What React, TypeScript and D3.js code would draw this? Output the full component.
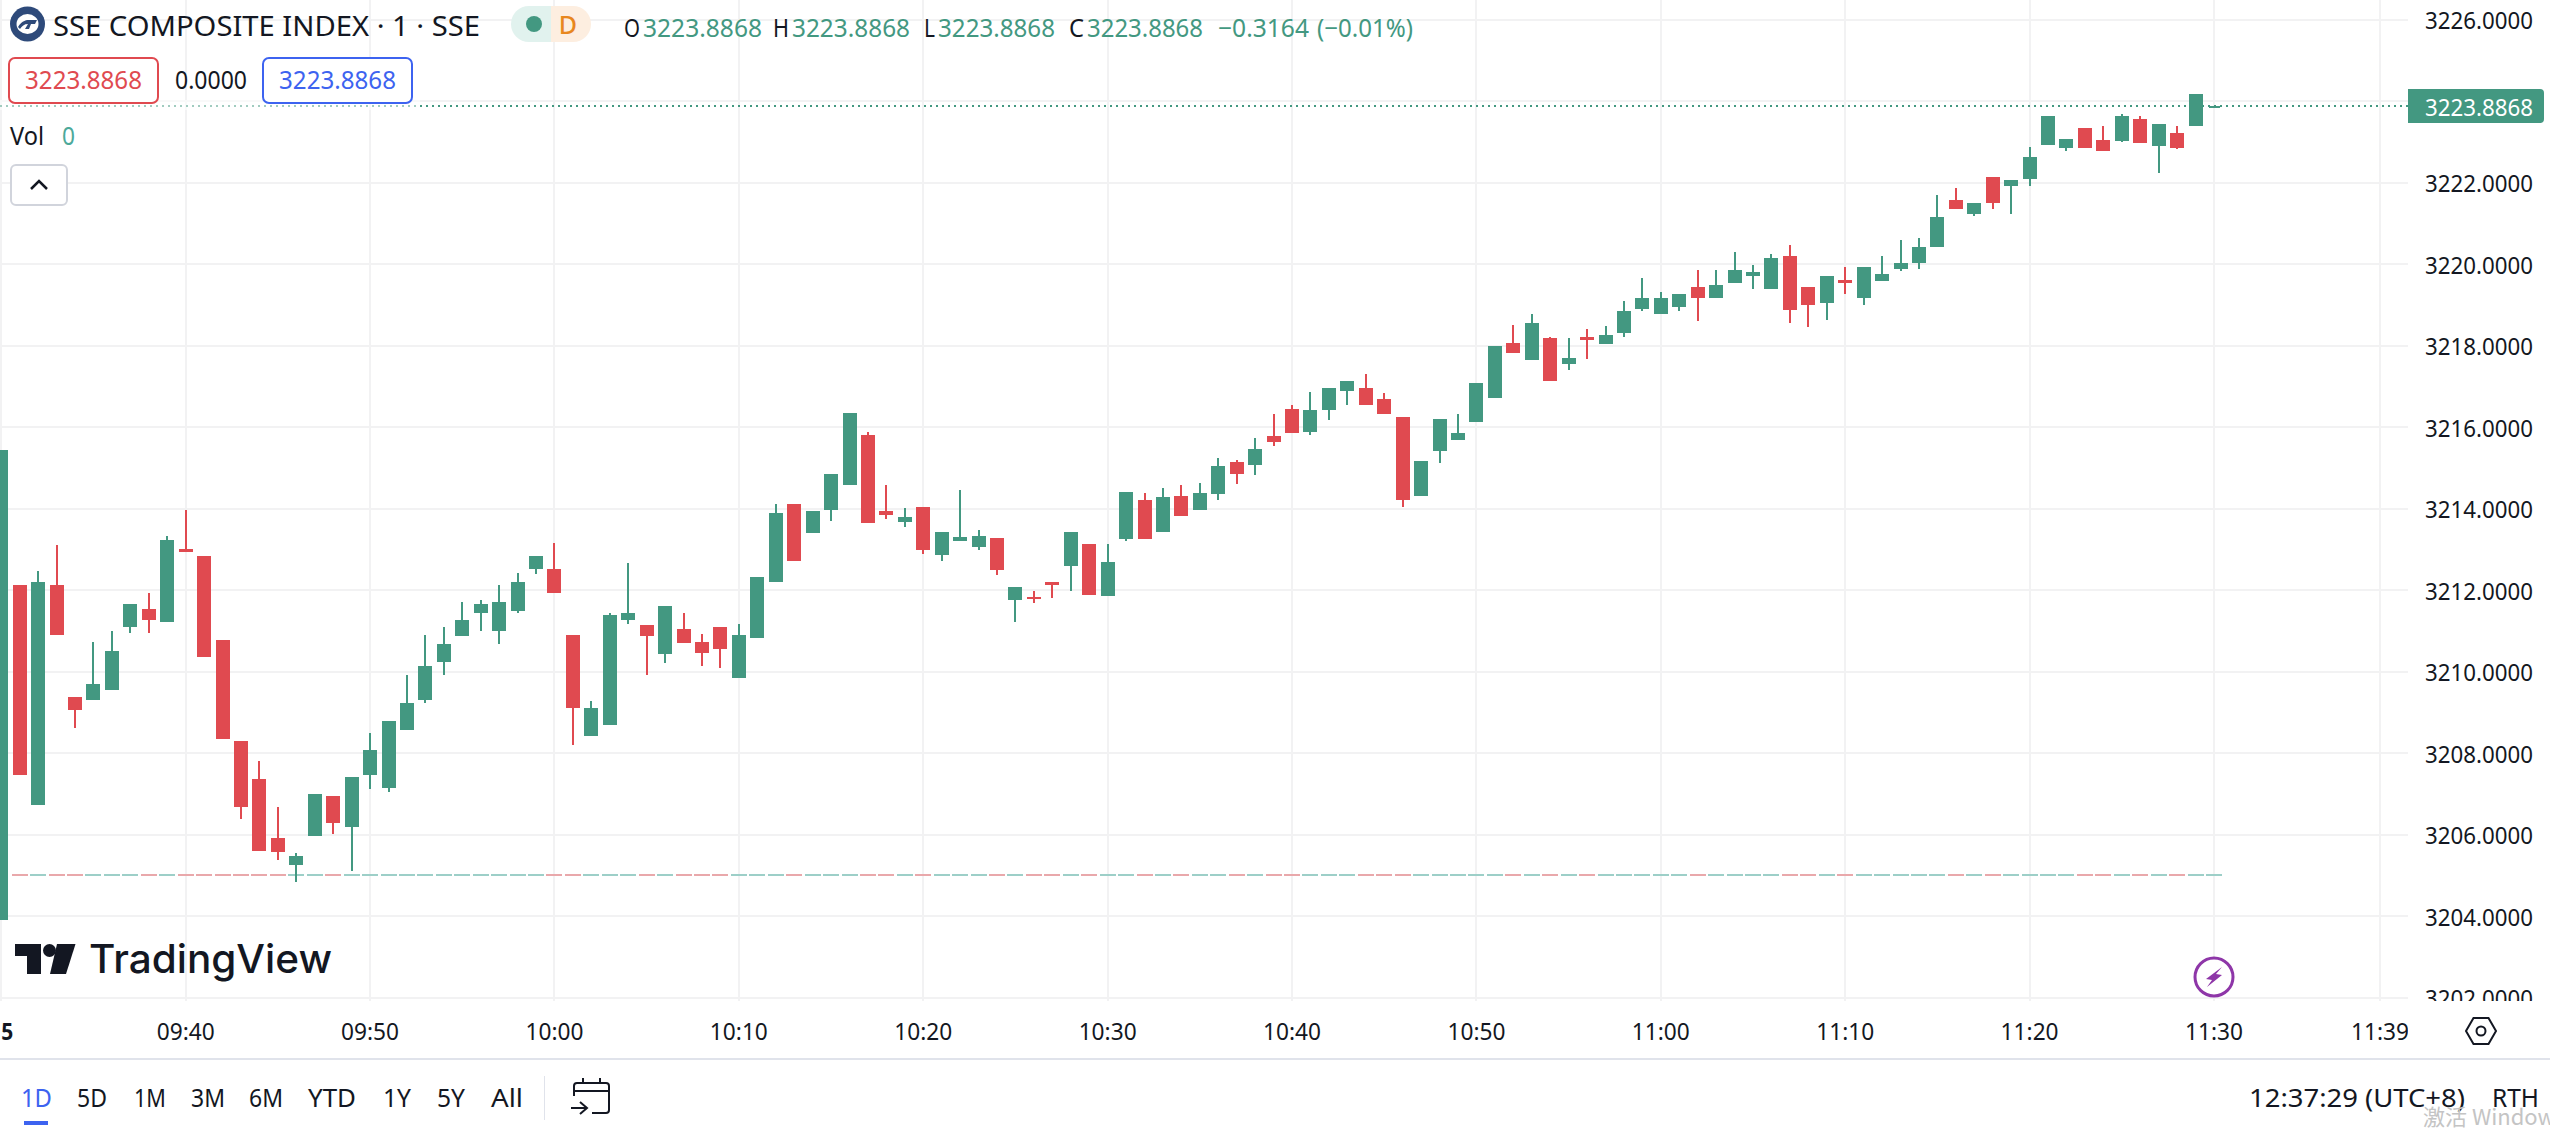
import React from "react";
import * as d3 from "d3";

const openPrices = [
  3203.91, 3212.12, 3206.72, 3212.12, 3209.39, 3209.30, 3209.56, 3211.09, 3211.53, 3211.21,
  3213.00, 3212.83, 3210.77, 3208.29, 3207.36, 3205.91, 3205.25, 3205.96, 3206.96, 3206.20,
  3207.46, 3207.14, 3208.56, 3209.30, 3210.25, 3210.87, 3211.43, 3210.99, 3211.48, 3212.53,
  3212.53, 3210.91, 3208.41, 3208.68, 3211.28, 3211.14, 3210.43, 3211.04, 3210.72, 3211.09,
  3209.84, 3210.82, 3212.19, 3214.11, 3213.40, 3213.96, 3214.58, 3215.80, 3213.94, 3213.67,
  3214.04, 3212.86, 3213.20, 3213.05, 3213.28, 3211.75, 3211.83, 3212.19, 3212.59, 3213.13,
  3211.85, 3213.25, 3214.21, 3213.42, 3214.30, 3213.98, 3214.37, 3215.15, 3215.08, 3215.79,
  3216.45, 3215.88, 3216.42, 3216.89, 3216.96, 3216.69, 3216.25, 3214.32, 3215.42, 3215.69,
  3216.13, 3216.72, 3218.06, 3217.64, 3218.18, 3217.55, 3218.21, 3218.04, 3218.30, 3218.89,
  3218.79, 3218.94, 3219.43, 3219.16, 3219.53, 3219.70, 3219.38, 3220.19, 3219.45, 3219.06,
  3219.62, 3219.16, 3219.60, 3219.89, 3220.04, 3220.43, 3221.58, 3221.24, 3222.15, 3221.93,
  3222.10, 3222.93, 3222.86, 3223.35, 3223.05, 3223.03, 3223.57, 3222.91, 3223.22, 3223.40,
  3223.83,
];
const highPrices = [
  3215.43, 3212.12, 3212.48, 3213.10, 3209.39, 3210.74, 3210.99, 3211.65, 3211.92, 3213.32,
  3213.98, 3212.83, 3210.77, 3208.29, 3207.80, 3206.67, 3205.54, 3207.01, 3206.96, 3207.41,
  3208.49, 3208.78, 3209.91, 3210.89, 3211.09, 3211.70, 3211.77, 3212.12, 3212.41, 3212.85,
  3213.15, 3210.91, 3209.27, 3211.45, 3212.66, 3211.14, 3211.61, 3211.43, 3210.92, 3211.09,
  3211.16, 3212.32, 3214.11, 3214.11, 3213.94, 3214.85, 3216.34, 3215.88, 3214.58, 3214.01,
  3214.04, 3213.42, 3214.45, 3213.47, 3213.28, 3212.07, 3211.97, 3212.19, 3213.42, 3213.13,
  3213.13, 3214.40, 3214.38, 3214.50, 3214.59, 3214.64, 3215.25, 3215.20, 3215.74, 3216.32,
  3216.54, 3216.86, 3216.96, 3217.13, 3217.30, 3216.84, 3216.25, 3215.18, 3216.20, 3216.32,
  3217.08, 3217.99, 3218.50, 3218.79, 3218.21, 3218.18, 3218.40, 3218.48, 3219.09, 3219.65,
  3219.33, 3219.28, 3219.85, 3219.85, 3220.31, 3219.99, 3220.26, 3220.46, 3219.45, 3219.72,
  3219.92, 3219.92, 3220.21, 3220.60, 3220.65, 3221.71, 3221.88, 3221.51, 3222.15, 3222.07,
  3222.88, 3223.64, 3223.08, 3223.35, 3223.40, 3223.69, 3223.64, 3223.44, 3223.40, 3224.18,
  3223.8868,
];
const lowPrices = [
  3203.91, 3207.46, 3206.72, 3210.91, 3208.63, 3209.30, 3209.56, 3210.94, 3210.94, 3211.21,
  3212.93, 3210.37, 3208.36, 3206.38, 3205.59, 3205.37, 3204.83, 3205.96, 3206.01, 3205.10,
  3207.11, 3207.06, 3208.56, 3209.22, 3209.91, 3210.87, 3211.01, 3210.67, 3211.45, 3212.39,
  3211.94, 3208.19, 3208.41, 3208.68, 3211.18, 3209.91, 3210.21, 3210.70, 3210.13, 3210.08,
  3209.84, 3210.82, 3212.19, 3212.71, 3213.40, 3213.69, 3214.58, 3213.64, 3213.74, 3213.55,
  3212.88, 3212.71, 3213.20, 3212.98, 3212.37, 3211.21, 3211.68, 3211.80, 3211.97, 3211.88,
  3211.85, 3213.20, 3213.25, 3213.42, 3213.83, 3213.98, 3214.22, 3214.61, 3214.83, 3215.54,
  3215.86, 3215.81, 3216.18, 3216.54, 3216.54, 3216.32, 3214.03, 3214.30, 3215.13, 3215.69,
  3216.13, 3216.72, 3217.82, 3217.64, 3217.13, 3217.40, 3217.67, 3218.04, 3218.21, 3218.84,
  3218.77, 3218.84, 3218.60, 3219.16, 3219.53, 3219.38, 3219.38, 3218.55, 3218.45, 3218.62,
  3219.26, 3218.99, 3219.60, 3219.84, 3219.89, 3220.43, 3221.36, 3221.19, 3221.36, 3221.24,
  3221.93, 3222.93, 3222.78, 3222.86, 3222.78, 3223.00, 3222.98, 3222.24, 3222.83, 3223.40,
  3223.83,
];
const closePrices = [
  3215.43, 3207.46, 3212.21, 3210.91, 3209.07, 3209.71, 3210.52, 3211.65, 3211.26, 3213.22,
  3212.93, 3210.37, 3208.36, 3206.67, 3205.59, 3205.57, 3205.47, 3207.01, 3206.28, 3207.41,
  3208.09, 3208.78, 3209.22, 3210.15, 3210.69, 3211.26, 3211.65, 3211.72, 3212.21, 3212.85,
  3211.94, 3209.12, 3209.10, 3211.38, 3211.45, 3210.87, 3211.61, 3210.70, 3210.45, 3210.55,
  3210.89, 3212.32, 3213.89, 3212.71, 3213.94, 3214.85, 3216.34, 3213.64, 3213.84, 3213.79,
  3212.98, 3213.42, 3213.30, 3213.32, 3212.49, 3212.07, 3211.78, 3212.12, 3213.42, 3211.88,
  3212.69, 3214.40, 3213.25, 3214.28, 3213.83, 3214.39, 3215.05, 3214.86, 3215.47, 3215.64,
  3215.86, 3216.42, 3216.96, 3217.13, 3216.54, 3216.32, 3214.22, 3215.18, 3216.20, 3215.86,
  3217.08, 3217.99, 3217.82, 3218.55, 3217.13, 3217.69, 3218.13, 3218.26, 3218.84, 3219.16,
  3219.16, 3219.28, 3219.16, 3219.48, 3219.85, 3219.82, 3220.16, 3218.87, 3219.01, 3219.72,
  3219.55, 3219.92, 3219.75, 3220.02, 3220.43, 3221.17, 3221.36, 3221.51, 3221.49, 3222.07,
  3222.64, 3223.64, 3223.08, 3222.86, 3222.78, 3223.64, 3222.98, 3223.44, 3222.86, 3224.18,
  3223.8868,
];

const lastPrice = 3223.8868;
const baselinePrice = 3205.02;
const priceTicks = [3226, 3224, 3222, 3220, 3218, 3216, 3214, 3212, 3210, 3208, 3206, 3204, 3202];
const timeTickIndex = [0, 10, 20, 30, 40, 50, 60, 70, 80, 90, 100, 110, 120, 129];
const timeTickLabels = ["15", "09:40", "09:50", "10:00", "10:10", "10:20", "10:30", "10:40", "10:50", "11:00", "11:10", "11:20", "11:30", "11:39"];
const periods = ["1D", "5D", "1M", "3M", "6M", "YTD", "1Y", "5Y", "All"];
const periodLeft = [21, 77, 134, 191, 249, 308, 383, 437, 491];
const periodWidth = [31, 30, 32, 34, 34, 48, 28, 28, 32];

const UP = "#439881";
const DOWN = "#e04a50";
const GRID = "#f2f2f3";
const INK = "#131722";
const FONT = "'Noto Sans', sans-serif";
const PLOT_R = 2408;
const PLOT_B = 1001;

const x = d3.scaleLinear().domain([0, 120]).range([1.3, 2214]);
const y = d3.scaleLinear().domain([3226, 3202]).range([19.7, 997.7]);

function T({ x: tx, cy, w, size = 24, fill = INK, anchor = "start", weight = 400, family = FONT, children }: any) {
  return (
    <text
      x={tx}
      y={cy + size * 0.357}
      fontFamily={family}
      fontSize={size}
      fontWeight={weight}
      fill={fill}
      textAnchor={anchor}
      textLength={w}
      lengthAdjust={w ? "spacingAndGlyphs" : undefined}
    >
      {children}
    </text>
  );
}

const legendPieces: [string, number, number, string][] = [
  ["O", 624, 16, INK],
  ["3223.8868", 643, 119, UP],
  ["H", 773, 16, INK],
  ["3223.8868", 792, 118, UP],
  ["L", 924, 11, INK],
  ["3223.8868", 938, 117, UP],
  ["C", 1069, 15, INK],
  ["3223.8868", 1087, 116, UP],
  ["−0.3164", 1218, 91, UP],
  ["(−0.01%)", 1317, 96, UP],
];

export default function App() {
  const bars = openPrices.map((o, i) => ({ i, o, h: highPrices[i], l: lowPrices[i], c: closePrices[i] }));
  const last = bars.length - 1;
  return (
    <svg
      width={2550}
      height={1136}
      viewBox="0 0 2550 1136"
      style={{ position: "absolute", left: 0, top: 0, display: "block", background: "#fff" }}
    >
      <defs>
        <clipPath id="plot"><rect x={0} y={0} width={PLOT_R} height={PLOT_B} /></clipPath>
        <clipPath id="axisR"><rect x={PLOT_R} y={0} width={142} height={PLOT_B} /></clipPath>
        <clipPath id="axisB"><rect x={0} y={PLOT_B} width={PLOT_R} height={58} /></clipPath>
      </defs>

      <g clipPath="url(#plot)" shapeRendering="crispEdges">
        {priceTicks.map((p) => (
          <rect key={p} x={0} width={PLOT_R} y={Math.round(y(p)) - 1} height={2} fill={GRID} />
        ))}
        {timeTickIndex.map((t) => (
          <rect key={t} x={Math.round(x(t)) - 1} width={2} y={0} height={PLOT_B} fill={GRID} />
        ))}

        {/* per-bar dashes of the baseline */}
        {bars.slice(1).map((b) => (
          <rect
            key={b.i}
            x={Math.round(x(b.i)) - 8}
            width={16}
            y={Math.round(y(baselinePrice)) - 1}
            height={2}
            fill={b.c >= b.o ? "#9dcfc8" : "#e9a8ab"}
          />
        ))}

        {/* last price line */}
        <line
          x1={0}
          x2={PLOT_R}
          y1={y(lastPrice)}
          y2={y(lastPrice)}
          stroke={UP}
          strokeWidth={2}
          strokeDasharray="2 4"
        />

        {bars.map((b) => {
          const col = b.c >= b.o ? UP : DOWN;
          const cx = Math.round(x(b.i));
          const top = y(Math.max(b.o, b.c));
          const bot = y(Math.min(b.o, b.c));
          const w = b.i === last ? 11 : 14;
          return (
            <g key={b.i} fill={col}>
              <rect x={cx - 1} width={2} y={y(b.h)} height={Math.max(0, y(b.l) - y(b.h))} />
              <rect x={cx - w / 2} width={w} y={top} height={Math.max(2, bot - top)} />
            </g>
          );
        })}
      </g>

      {/* legend wash over the price line */}
      <rect x={0} y={100} width={420} height={10} fill="#fff" fillOpacity={0.5} />

      {/* header */}
      <circle cx={27.5} cy={24} r={17.5} fill="#2e4a7a" />
      <ellipse cx={27.5} cy={24} rx={11} ry={10} fill="#fff" />
      <path d="M18 27 C22 20 27 20 30 20 L37 20 L35 24 L31 24 L29 29 L25 29 L28 24 C24 24 22 26 20 29 Z" fill="#2e4a7a" />
      <T x={53} cy={26} w={427} size={27}>SSE COMPOSITE INDEX · 1 · SSE</T>

      <path d="M551 6 H529 A18 18 0 0 0 511 24 A18 18 0 0 0 529 42 H551 Z" fill="#e1f2ee" />
      <path d="M551 6 H573 A18 18 0 0 1 591 24 A18 18 0 0 1 573 42 H551 Z" fill="#fdeee0" />
      <circle cx={534} cy={24} r={8} fill={UP} />
      <T x={568} cy={25} anchor="middle" size={25} weight={500} fill="#e8871e">D</T>

      {legendPieces.map(([s, px, w, c], i) => (
        <T key={i} x={px} cy={28} w={w} size={25} fill={c}>{s}</T>
      ))}

      <rect x={9} y={58} width={149} height={45} rx={6} fill="#fff" stroke={DOWN} strokeWidth={2} />
      <T x={25} cy={80} w={117} size={25} fill={DOWN}>3223.8868</T>
      <T x={175} cy={80} w={72} size={25}>0.0000</T>
      <rect x={263} y={58} width={149} height={45} rx={6} fill="#fff" stroke="#3d63f0" strokeWidth={2} />
      <T x={279} cy={80} w={117} size={25} fill="#3d63f0">3223.8868</T>

      <T x={10} cy={136} w={34} size={25}>Vol</T>
      <T x={62} cy={136} w={13} size={25} fill="#4ca99a">0</T>

      <rect x={11} y={165} width={56} height={40} rx={5} fill="#fff" stroke="#d1d4dc" strokeWidth={2} />
      <path d="M31 189 L39 181 L47 189" fill="none" stroke={INK} strokeWidth={2.5} />

      {/* logo */}
      <path d="M15 944 H41 V974 H27 V956 H15 Z" fill={INK} />
      <circle cx={49.5} cy={950.5} r={6.5} fill={INK} />
      <path d="M57 944 H75.5 L66 974 H50 Z" fill={INK} />
      <T x={89} cy={958.7} w={243} size={40} weight={500} family="Inter, 'Noto Sans', sans-serif">TradingView</T>

      {/* lightning marker */}
      <circle cx={x(120)} cy={977} r={19} fill="#fff" stroke="#8e36a8" strokeWidth={3} />
      <path d="M2222 967 L2206 979 L2212 980 L2207 987 L2222 975 L2216 974 Z" fill="#8e36a8" />

      {/* price axis */}
      <g clipPath="url(#axisR)">
        {priceTicks.filter((p) => p !== 3224).map((p) => (
          <T key={p} x={2425} cy={y(p) + 1} w={108} size={24}>{d3.format(".4f")(p)}</T>
        ))}
        <path d="M2408 89 H2540 A4 4 0 0 1 2544 93 V119 A4 4 0 0 1 2540 123 H2408 Z" fill={UP} />
        <T x={2425} cy={107} w={108} size={24} fill="#fff">{d3.format(".4f")(lastPrice)}</T>
      </g>

      {/* time axis */}
      <g clipPath="url(#axisB)">
        {timeTickIndex.map((t, i) => (
          <T key={t} x={x(t)} cy={1031} w={i === 0 ? 24 : 58} size={24} anchor="middle" weight={i === 0 ? 700 : 400}>
            {timeTickLabels[i]}
          </T>
        ))}
      </g>
      <rect x={0} y={1058} width={2550} height={2} fill="#e0e3eb" />

      {/* settings icon */}
      <path d="M2466 1031 L2473.5 1018 H2488.5 L2496 1031 L2488.5 1044 H2473.5 Z" fill="none" stroke={INK} strokeWidth={2} />
      <circle cx={2481} cy={1031} r={4.5} fill="none" stroke={INK} strokeWidth={2} />

      {/* bottom toolbar */}
      {periods.map((p, i) => (
        <T key={p} x={periodLeft[i]} cy={1098} w={periodWidth[i]} size={25} fill={i === 0 ? "#3d63f0" : INK}>{p}</T>
      ))}
      <rect x={24} y={1121} width={24} height={4} fill="#3d63f0" />
      <rect x={544} y={1076} width={1} height={44} fill="#e0e3eb" />
      <g fill="none" stroke={INK} strokeWidth={2}>
        <path d="M574 1096 V1086 A3 3 0 0 1 577 1083 H606 A3 3 0 0 1 609 1086 V1110 A3 3 0 0 1 606 1113 H592" />
        <path d="M574 1091 H609 M583 1078 V1084 M600 1078 V1084" />
        <path d="M571 1108 H586 M580 1102 L587 1108 L580 1114" />
      </g>
      <T x={2249} cy={1098} w={216} size={25}>12:37:29 (UTC+8)</T>
      <T x={2492} cy={1098} w={47} size={25}>RTH</T>

      {/* OS watermark */}
      <text x={2423} y={1125} fontFamily="'Noto Sans CJK SC', 'Noto Sans', sans-serif" fontSize={22} fill="#c4c4c4">激活 Windows</text>
    </svg>
  );
}
